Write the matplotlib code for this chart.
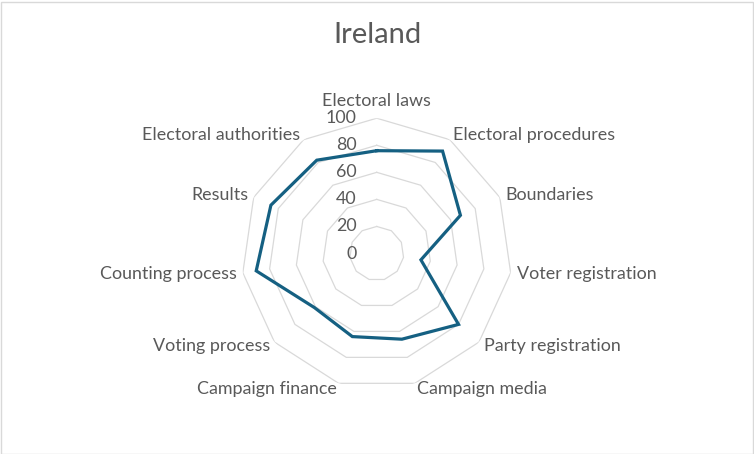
import numpy as np
import matplotlib
matplotlib.use("Agg")
import matplotlib.pyplot as plt
from matplotlib.patches import Rectangle

title = "Ireland"
categories = ["Electoral laws", "Electoral procedures", "Boundaries", "Voter registration",
              "Party registration", "Campaign media", "Campaign finance", "Voting process",
              "Counting process", "Results", "Electoral authorities"]
values = [76, 90, 68, 33, 80, 66, 64, 61, 90, 86, 82]
ticks = [0, 20, 40, 60, 80, 100]

FONT = ["Lato", "DejaVu Sans"]
TXT = "#595959"
GRID = "#D9D9D9"
LINE = "#156082"

fig = plt.figure(figsize=(7.54, 4.54), dpi=100)
fig.patches.append(Rectangle((0.5 / 754, 0.5 / 454), 1 - 2 / 754, 1 - 2 / 454,
                             transform=fig.transFigure, fill=False,
                             edgecolor=GRID, linewidth=1.0))

ax = fig.add_axes([0.3202, 0.1436, 0.3589, 0.596], projection="polar")
ax.set_theta_zero_location("N")
ax.set_theta_direction(-1)
ax.set_ylim(0, 100)
ax.grid(False)
ax.spines["polar"].set_visible(False)
ax.set_xticks([])
ax.set_yticks([])
ax.patch.set_alpha(0)

n = len(categories)
angles = np.linspace(0, 2 * np.pi, n, endpoint=False)
ang_closed = np.concatenate([angles, angles[:1]])

# polygon gridlines
for t in ticks[1:]:
    ax.plot(ang_closed, [t] * (n + 1), color=GRID, linewidth=0.9, zorder=1)

# data
vals_closed = values + values[:1]
ax.plot(ang_closed, vals_closed, color=LINE, linewidth=2.3, zorder=3,
        solid_joinstyle="miter")

FS = 12.9
# tick labels
for t in ticks:
    ax.annotate(str(t), xy=(0, t), xytext=(-20, 0), textcoords="offset pixels",
                ha="right", va="center", fontsize=FS, color=TXT, family=FONT,
                zorder=4)

# category labels
for a, c in zip(angles, categories):
    s, co = np.sin(a), np.cos(a)
    if abs(s) < 0.1:
        ha = "center"
        off = (0, 17 if co > 0 else -17)
    else:
        ha = "left" if s > 0 else "right"
        off = (6 * s, 6 * co)
    ax.annotate(c, xy=(a, 100), xytext=off, textcoords="offset pixels",
                ha=ha, va="center", fontsize=FS, color=TXT, family=FONT)

fig.text(0.5, 1 - 35 / 454, title, ha="center", va="center", fontsize=21,
         color=TXT, family=FONT)

fig.savefig("out.png", dpi=100)
